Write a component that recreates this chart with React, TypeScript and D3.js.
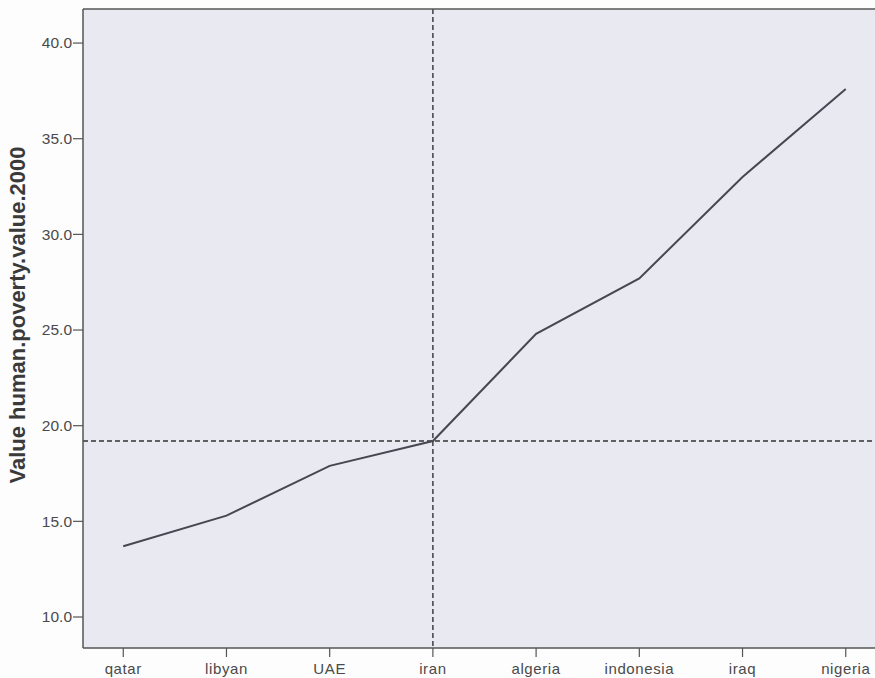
import * as d3 from 'd3';

const countries = ['qatar', 'libyan', 'UAE', 'iran', 'algeria', 'indonesia', 'iraq', 'nigeria'];
const povertyValues = [13.7, 15.3, 17.9, 19.2, 24.8, 27.7, 33.0, 37.6];
const yTickValues = [10, 15, 20, 25, 30, 35, 40];
const refCountry = 'iran';
const refValue = 19.2;

const W = 875;
const H = 678;
const plot = { left: 83, top: 9, right: 886, bottom: 648 };

export default function App() {
  const x = d3.scalePoint<string>().domain(countries).range([plot.left, plot.right]).padding(0.39);
  const y = d3.scaleLinear().domain([8.38, 41.78]).range([plot.bottom, plot.top]);

  const pts = countries.map((c, i) => ({ c, v: povertyValues[i] }));
  const line = d3
    .line<{ c: string; v: number }>()
    .x((d) => x(d.c) ?? 0)
    .y((d) => y(d.v));

  const axisColor = '#555';
  const labelColor = '#4a4a4a';
  const font = '"Liberation Sans", Arial, sans-serif';

  return (
    <svg
      width={W}
      height={H}
      style={{ position: 'fixed', left: 0, top: 0, background: '#fdfdfd' }}
    >
      {/* plot background */}
      <rect
        x={plot.left}
        y={plot.top}
        width={plot.right - plot.left}
        height={plot.bottom - plot.top}
        fill="#e9e9f2"
      />

      {/* reference lines */}
      <line
        x1={plot.left}
        x2={plot.right}
        y1={y(refValue)}
        y2={y(refValue)}
        stroke="#333"
        strokeWidth={1.4}
        strokeDasharray="5 3"
      />
      <line
        x1={x(refCountry)}
        x2={x(refCountry)}
        y1={plot.top}
        y2={plot.bottom}
        stroke="#333"
        strokeWidth={1.4}
        strokeDasharray="5 3"
      />

      {/* data line */}
      <path d={line(pts) ?? undefined} fill="none" stroke="#474750" strokeWidth={2} />

      {/* frame */}
      <line x1={plot.left} x2={plot.right} y1={plot.top} y2={plot.top} stroke={axisColor} strokeWidth={1.5} />
      <line x1={plot.left} x2={plot.right} y1={plot.bottom} y2={plot.bottom} stroke={axisColor} strokeWidth={1.5} />
      <line x1={plot.left} x2={plot.left} y1={plot.top} y2={plot.bottom} stroke={axisColor} strokeWidth={1.5} />

      {/* y ticks */}
      {yTickValues.map((v) => (
        <g key={v} transform={`translate(0, ${y(v)})`}>
          <line x1={plot.left - 10} x2={plot.left} stroke={axisColor} strokeWidth={1.2} />
          <text
            x={plot.left - 11}
            dy="0.35em"
            textAnchor="end"
            fontSize={15.5}
            fontFamily={font}
            fill={labelColor}
          >
            {v.toFixed(1)}
          </text>
        </g>
      ))}

      {/* x ticks */}
      {countries.map((c) => (
        <g key={c} transform={`translate(${x(c)}, 0)`}>
          <line y1={plot.bottom} y2={plot.bottom + 9} stroke={axisColor} strokeWidth={1.2} />
          <text
            y={plot.bottom + 26}
            textAnchor="middle"
            fontSize={15}
            letterSpacing={0.6}
            fontFamily={font}
            fill={labelColor}
          >
            {c}
          </text>
        </g>
      ))}

      {/* y axis title */}
      <text
        transform={`translate(25, 315) rotate(-90)`}
        textAnchor="middle"
        fontSize={22}
        fontWeight="bold"
        fontFamily={font}
        fill="#3a3a3a"
      >
        Value human.poverty.value.2000
      </text>
    </svg>
  );
}
